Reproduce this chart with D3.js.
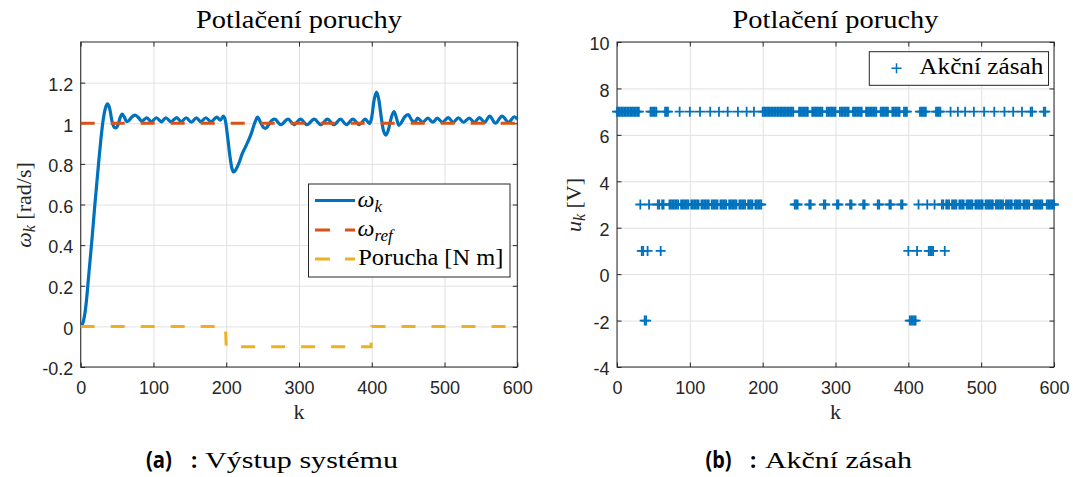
<!DOCTYPE html>
<html><head><meta charset="utf-8">
<script src="https://cdn.jsdelivr.net/npm/d3@7"></script>
<style>body{margin:0;background:#fff}svg{display:block}</style>
</head><body>
<svg id="c" width="1073" height="477"></svg>
<script>
// ---------------- data ----------------
const kTicks = [0,100,200,300,400,500,600];
const kTickLabels = ["0","100","200","300","400","500","600"];
const yTicksA = [-0.2,0,0.2,0.4,0.6,0.8,1,1.2];
const yTickLabelsA = ["-0.2","0","0.2","0.4","0.6","0.8","1","1.2"];
const yTicksB = [-4,-2,0,2,4,6,8,10];
const yTickLabelsB = ["-4","-2","0","2","4","6","8","10"];

// omega_k (output), read at its turning points
const omegaK = [0,2,4,6,8,10,13,16,19,22,25,28,31,34,37,40,43,46,48,51,54,57,60,63,66,70,75,80,84,91,97,104,111,117,124,132,138,145,152,159,165,172,179,187,192,196,199,202,205,208,210.5,213,217,222,228,234,239,243,247,251,254,258,262,266.5,275,285,293,302,311,321,330,339,348,357,365,374,383,391,397,400,403,406.5,410,413,416,419.5,423,427,430.5,434,437,440,445,450,455,459,463,470,477,484,490,497,505,512,519,526,534,541,548,555,562,570,579,588,596,600];
const omegaV = [0.005,0.01,0.03,0.07,0.13,0.21,0.33,0.45,0.58,0.70,0.82,0.93,1.02,1.075,1.095,1.07,1.01,0.98,0.977,0.99,1.025,1.045,1.03,1.008,1.012,1.03,1.04,1.025,1.01,1.027,1.007,1.027,1.007,1.027,1.007,1.028,1.007,1.027,1.006,1.027,1.007,1.027,1.007,1.03,1.015,1.035,1.01,0.93,0.84,0.775,0.76,0.77,0.80,0.85,0.895,0.945,1.0,1.03,1.005,0.98,0.975,0.99,1.012,1.02,0.993,1.02,0.993,1.02,0.993,1.02,0.993,1.02,0.993,1.02,0.993,1.02,0.993,1.02,0.998,1.03,1.11,1.153,1.11,1.03,0.965,0.942,0.97,1.03,1.057,1.025,0.99,1.0,1.03,1.042,1.015,1.005,1.025,1.005,1.025,1.005,1.025,1.005,1.028,1.005,1.027,1.005,1.025,1.005,1.028,1.005,1.035,1.0,1.035,1.005,1.032,1.02];

// omega_ref
const refK = [0,600];
const refV = [1,1];

// disturbance (Porucha)
const porK = [0,199,200,399,400,600];
const porV = [0,0,-0.1,-0.1,0,0];

// control action u_k: runs [kStart, kEnd, level], samples every uStep
const uStep = 2;
const uRuns = [
 [0,30,7],[32,32,3],[34,36,1],[38,40,-2],[42,42,1],[44,44,3],[46,54,7],[56,58,3],[60,60,1],[62,64,3],
 [66,70,7],[72,84,3],[86,86,7],[88,98,3],[100,100,7],[102,112,3],[114,114,7],[116,126,3],[128,128,7],
 [130,138,3],[140,140,7],[142,150,3],[152,152,7],[154,164,3],[166,166,7],[168,176,3],[178,178,7],
 [180,186,3],[188,188,7],[190,198,3],[200,242,7],[244,248,3],[250,262,7],[264,266,3],[268,282,7],
 [284,286,3],[288,300,7],[302,304,3],[306,318,7],[320,322,3],[324,336,7],[338,340,3],[342,356,7],
 [358,360,3],[362,372,7],[374,376,3],[378,388,7],[390,392,3],[394,398,7],[400,400,1],[402,410,-2],
 [412,412,1],[414,414,3],[416,424,7],[426,426,3],[428,434,1],[436,436,3],[438,444,7],[446,448,3],
 [450,450,1],[452,456,3],[458,458,7],[460,466,3],[468,468,7],[470,476,3],[478,478,7],[480,488,3],
 [490,490,7],[492,502,3],[504,504,7],[506,516,3],[518,518,7],[520,530,3],[532,532,7],[534,542,3],
 [544,544,7],[546,554,3],[556,556,7],[558,566,3],[568,570,7],[572,584,3],[586,588,7],[590,600,3]
];

// ---------------- drawing ----------------
const SANS = "'Liberation Sans', Arial, Helvetica, sans-serif";
const SERIF = "'Liberation Serif', 'Times New Roman', serif";
const CAPSANS = "'Open Sans', 'Noto Sans', sans-serif";
const C_AX = "#262626", C_GRID = "#e1e1e1";
const BLUE = "#0072BD", ORANGE = "#D95319", YELLOW = "#EDB120";
const TOP = 42, BOT = 367;

const svg = d3.select("#c");

const xA = d3.scaleLinear([0,600],[80.7,517.3]);
const yA = d3.scaleLinear([-0.2,1.4],[BOT,TOP]);
const xB = d3.scaleLinear([0,600],[617,1054]);
const yB = d3.scaleLinear([-4,10],[BOT,TOP]);

function drawFrame(x, y, yTicks, yLabels) {
  const L = x.range()[0], R = x.range()[1];
  const g = svg.append("g");
  g.append("g").attr("transform",`translate(0,${BOT})`)
    .call(d3.axisBottom(x).tickValues(kTicks).tickSize(-(BOT-TOP)).tickFormat(""))
    .call(s=>s.select(".domain").remove())
    .selectAll("line").attr("stroke",C_GRID).attr("stroke-width",1);
  g.append("g").attr("transform",`translate(${L},0)`)
    .call(d3.axisLeft(y).tickValues(yTicks).tickSize(-(R-L)).tickFormat(""))
    .call(s=>s.select(".domain").remove())
    .selectAll("line").attr("stroke",C_GRID).attr("stroke-width",1);
  g.append("rect").attr("x",L).attr("y",TOP).attr("width",R-L).attr("height",BOT-TOP)
    .attr("fill","none").attr("stroke",C_AX).attr("stroke-width",1);
  const styleAx = s => {
    s.select(".domain").remove();
    s.selectAll("line").attr("stroke",C_AX);
    s.selectAll("text").attr("font-family",SANS).attr("font-size",18).attr("fill",C_AX);
  };
  g.append("g").attr("transform",`translate(0,${BOT})`)
    .call(d3.axisBottom(x).tickValues(kTicks).tickSizeInner(-4.5).tickSizeOuter(0).tickPadding(14)
      .tickFormat((d,i)=>kTickLabels[i])).call(styleAx);
  g.append("g").attr("transform",`translate(0,${TOP})`)
    .call(d3.axisTop(x).tickValues(kTicks).tickSizeInner(-4.5).tickSizeOuter(0).tickFormat("")).call(styleAx);
  g.append("g").attr("transform",`translate(${L},0)`)
    .call(d3.axisLeft(y).tickValues(yTicks).tickSizeInner(-4.5).tickSizeOuter(0).tickPadding(7.4)
      .tickFormat((d,i)=>yLabels[i])).call(styleAx)
    .selectAll("text").attr("dy","0.43em");
  g.append("g").attr("transform",`translate(${R},0)`)
    .call(d3.axisRight(y).tickValues(yTicks).tickSizeInner(-4.5).tickSizeOuter(0).tickFormat("")).call(styleAx);
  // title
  svg.append("text").attr("x",(L+R)/2).attr("y",28).attr("text-anchor","middle")
    .attr("font-family",SERIF).attr("font-size",25).attr("fill","#000")
    .attr("textLength",206).attr("lengthAdjust","spacingAndGlyphs")
    .text("Potlačení poruchy");
  // x label
  svg.append("text").attr("x",(L+R)/2).attr("y",419).attr("text-anchor","middle")
    .attr("font-family",SERIF).attr("font-size",22).attr("fill",C_AX).text("k");
}

drawFrame(xA, yA, yTicksA, yTickLabelsA);
drawFrame(xB, yB, yTicksB, yTickLabelsB);

// ---- left panel data ----
const omega = omegaK.map((k,i)=>[k,omegaV[i]]);
const ref = refK.map((k,i)=>[k,refV[i]]);
const por = porK.map((k,i)=>[k,porV[i]]);
const lineLin = d3.line().x(d=>xA(d[0])).y(d=>yA(d[1]));
const lineSmooth = d3.line().x(d=>xA(d[0])).y(d=>yA(d[1])).curve(d3.curveMonotoneX);

svg.append("path").attr("d",lineSmooth(omega))
  .attr("fill","none").attr("stroke",BLUE).attr("stroke-width",3.2).attr("stroke-linejoin","round");
svg.append("path").attr("d",lineLin(ref))
  .attr("fill","none").attr("stroke",ORANGE).attr("stroke-width",3).attr("stroke-dasharray","14,16");
svg.append("path").attr("d",lineLin(por))
  .attr("fill","none").attr("stroke",YELLOW).attr("stroke-width",3).attr("stroke-dasharray","14,16");

// y label left
const ylA = svg.append("text").attr("transform","translate(31,205) rotate(-90)")
  .attr("text-anchor","middle").attr("font-family",SERIF).attr("font-size",22).attr("fill",C_AX);
ylA.append("tspan").attr("font-style","italic").text("ω");
ylA.append("tspan").attr("font-style","italic").attr("font-size",16).attr("dy",4).text("k");
ylA.append("tspan").attr("dy",-4).text(" [rad/s]");

// legend left
const lg = svg.append("g");
lg.append("rect").attr("x",308.5).attr("y",184).attr("width",201.5).attr("height",93)
  .attr("fill","#fff").attr("stroke",C_AX).attr("stroke-width",1);
lg.append("line").attr("x1",315).attr("x2",355).attr("y1",200.5).attr("y2",200.5)
  .attr("stroke",BLUE).attr("stroke-width",3.2);
lg.append("line").attr("x1",315).attr("x2",355).attr("y1",230).attr("y2",230)
  .attr("stroke",ORANGE).attr("stroke-width",3).attr("stroke-dasharray","15,15");
lg.append("line").attr("x1",315).attr("x2",355).attr("y1",259).attr("y2",259)
  .attr("stroke",YELLOW).attr("stroke-width",3).attr("stroke-dasharray","15,15");
const t1 = lg.append("text").attr("x",357.5).attr("y",207).attr("font-family",SERIF).attr("font-size",24);
t1.append("tspan").attr("font-style","italic").text("ω");
t1.append("tspan").attr("font-style","italic").attr("font-size",17).attr("dy",5).text("k");
const t2 = lg.append("text").attr("x",357.5).attr("y",236).attr("font-family",SERIF).attr("font-size",24);
t2.append("tspan").attr("font-style","italic").text("ω");
t2.append("tspan").attr("font-style","italic").attr("font-size",17).attr("dy",5).text("ref");
lg.append("text").attr("x",358.3).attr("y",264.5).attr("font-family",SERIF).attr("font-size",24)
  .attr("textLength",145).attr("lengthAdjust","spacingAndGlyphs").text("Porucha [N m]");

// ---- right panel data ----
const uPts = [];
uRuns.forEach(([a,b,v])=>{ for(let k=a;k<=b;k+=uStep) uPts.push([k,v]); });
const plus = "M-5,0H5M0,-5V5";
svg.append("g").selectAll("path").data(uPts).join("path")
  .attr("transform",d=>`translate(${xB(d[0])},${yB(d[1])})`)
  .attr("d",plus).attr("fill","none").attr("stroke",BLUE).attr("stroke-width",1.8);

// y label right
const ylB = svg.append("text").attr("transform","translate(581,205) rotate(-90)")
  .attr("text-anchor","middle").attr("font-family",SERIF).attr("font-size",22).attr("fill",C_AX);
ylB.append("tspan").attr("font-style","italic").text("u");
ylB.append("tspan").attr("font-style","italic").attr("font-size",16).attr("dy",4).text("k");
ylB.append("tspan").attr("dy",-4).text(" [V]");

// legend right
svg.append("rect").attr("x",869.3).attr("y",51.7).attr("width",179.2).attr("height",33.6)
  .attr("fill","#fff").attr("stroke",C_AX).attr("stroke-width",1);
svg.append("path").attr("transform","translate(896.5,68.3)").attr("d",plus)
  .attr("fill","none").attr("stroke",BLUE).attr("stroke-width",1.5);
svg.append("text").attr("x",919.3).attr("y",74).attr("font-family",SERIF).attr("font-size",24)
  .attr("textLength",124).attr("lengthAdjust","spacingAndGlyphs").text("Akční zásah");

// ---- captions ----
function caption(x0, lab, xColon, xText, txt, len) {
  svg.append("text").attr("x",x0).attr("y",468).attr("font-family",CAPSANS)
    .attr("font-weight","bold").attr("font-size",23).attr("textLength",26)
    .attr("lengthAdjust","spacingAndGlyphs").text(lab);
  svg.append("text").attr("x",xColon).attr("y",468).attr("font-family",CAPSANS)
    .attr("font-weight","bold").attr("font-size",22).text(":");
  svg.append("text").attr("x",xText).attr("y",468).attr("font-family",SERIF).attr("font-size",23)
    .attr("textLength",len).attr("lengthAdjust","spacingAndGlyphs").text(txt);
}
caption(146,"(a)",191,205,"Výstup systému",193);
caption(705.6,"(b)",750,765,"Akční zásah",147);
</script>
</body></html>
